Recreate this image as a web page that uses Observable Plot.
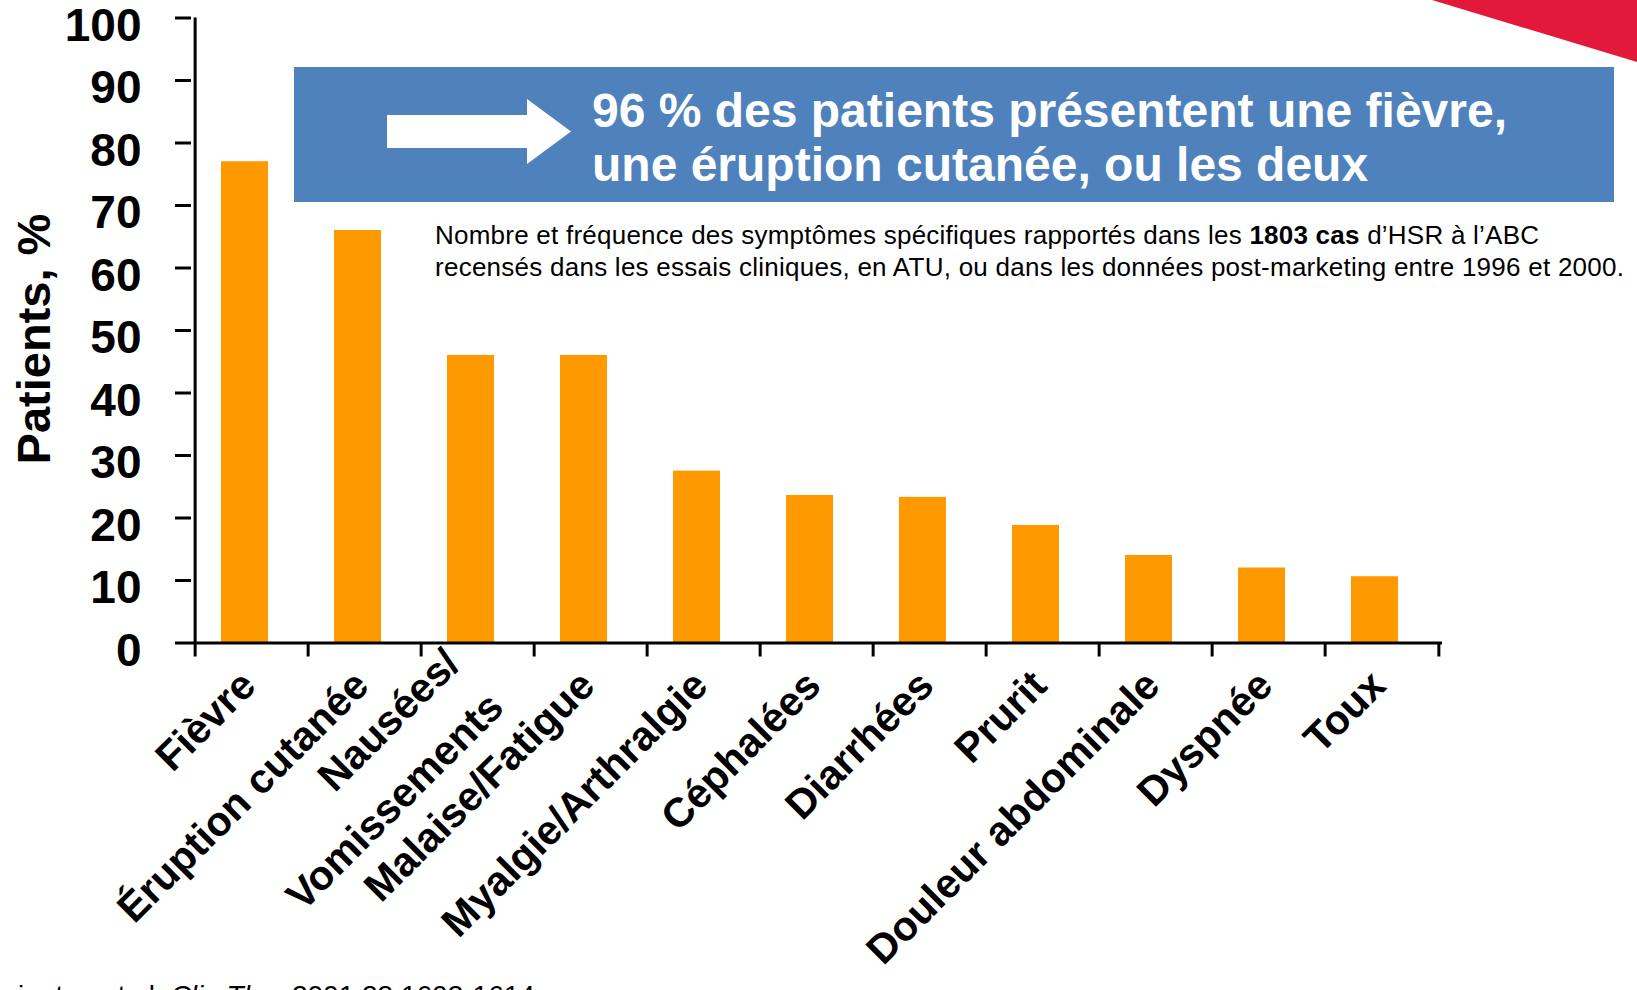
<!DOCTYPE html>
<html><head><meta charset="utf-8">
<script src="https://cdn.jsdelivr.net/npm/d3@7"></script>
<script src="https://cdn.jsdelivr.net/npm/@observablehq/plot@0.6"></script>
<style>
body{margin:0;background:#fff;font-family:"Liberation Sans",Arial,sans-serif;overflow:hidden}
#wrap{position:relative;width:1637px;height:990px;overflow:hidden;background:#fff}
#wrap svg.deco{position:absolute;left:0;top:0}
#chart{position:absolute;left:0;top:0}
</style></head><body>
<div id="wrap"><div id="chart"></div>
<svg class="deco" width="1637" height="990" font-family="Liberation Sans, Arial, sans-serif">
  <polygon points="1432,0 1637,0 1637,62" fill="#E2193A"/>
  <rect x="294" y="67" width="1320" height="135" fill="#4F81BD"/>
  <polygon points="387,115 527,115 527,99 571,131.5 527,164 527,148 387,148" fill="#fff"/>
  <text x="592" y="127" fill="#fff" font-size="48" font-weight="bold">96 % des patients présentent une fièvre,</text>
  <text x="592" y="181" fill="#fff" font-size="48" font-weight="bold">une éruption cutanée, ou les deux</text>
  <text x="435" y="244" fill="#000" font-size="26" textLength="1104" lengthAdjust="spacing">Nombre et fréquence des symptômes spécifiques rapportés dans les <tspan font-weight="bold">1803 cas</tspan> d’HSR à l’ABC</text>
  <text x="435" y="276" fill="#000" font-size="26" textLength="1189" lengthAdjust="spacing">recensés dans les essais cliniques, en ATU, ou dans les données post-marketing entre 1996 et 2000.</text>
  <text x="-66" y="1005" fill="#000" font-size="28">Hetherington et al. <tspan font-style="italic">Clin Ther</tspan> 2001;23:1603-1614</text>
</svg>
</div>
<script>
const categories = ["Fièvre", "Éruption cutanée", "Nausées/\nVomissements", "Malaise/Fatigue", "Myalgie/Arthralgie", "Céphalées", "Diarrhées", "Prurit", "Douleur abdominale", "Dyspnée", "Toux"];
const values = [77, 66, 46, 46, 27.5, 23.6, 23.3, 18.8, 14, 12, 10.6];
const yTicks = [0, 10, 20, 30, 40, 50, 60, 70, 80, 90, 100];
const yLabel = "Patients, %";

const data = categories.map((c, i) => ({cat: c, val: values[i]}));
const W = 1637, H = 990, mL = 191, mR = 195, mT = 17.5, mB = 347.5;
const step = (W - mL - mR) / categories.length;

const chart = Plot.plot({
  width: W, height: H,
  marginLeft: mL, marginRight: mR, marginTop: mT, marginBottom: mB,
  style: {fontFamily: "Liberation Sans, Arial, sans-serif", background: "transparent", overflow: "visible", color: "#000"},
  x: {domain: categories, padding: 0, axis: null},
  y: {domain: [0, 100], label: null},
  marks: [
    Plot.barY(data, {x: "cat", y: "val", fill: "#FF9900", insetLeft: 33, insetRight: 33, dx: -7}),
    Plot.axisY({ticks: yTicks, tickSize: 16, strokeWidth: 3, fill: "none", label: null}),
    Plot.axisY({ticks: yTicks, tickSize: 16, tickPadding: 34, stroke: "none", fill: "#000", fontSize: 46, fontWeight: "bold", dy: 8, label: null}),
    Plot.ruleY([0], {stroke: "#000", strokeWidth: 3}),
    Plot.ruleX([categories[0]], {dx: -step / 2, y1: 0, y2: 100, stroke: "#000", strokeWidth: 3}),
    Plot.ruleX(categories, {dx: -step / 2, y1: 0, y2: 0, insetTop: 14, stroke: "#000", strokeWidth: 3}),
    Plot.ruleX([categories[categories.length - 1]], {dx: step / 2, y1: 0, y2: 0, insetTop: 14, stroke: "#000", strokeWidth: 3}),
    Plot.text(categories, {x: d => d, text: d => d, frameAnchor: "bottom", rotate: -45, textAnchor: "end", lineAnchor: "middle", lineHeight: 1.5, fontSize: 41, fontWeight: "bold", dy: 31, dx: -8, fill: "#000"})
  ]
});
document.getElementById("chart").appendChild(chart);

// y-axis title (rotated)
const deco = d3.select("svg.deco");
deco.append("text")
  .attr("transform", "translate(50,339) rotate(-90)")
  .attr("text-anchor", "middle")
  .attr("font-size", 47)
  .attr("font-weight", "bold")
  .attr("fill", "#000")
  .text(yLabel);
</script>
</body></html>
